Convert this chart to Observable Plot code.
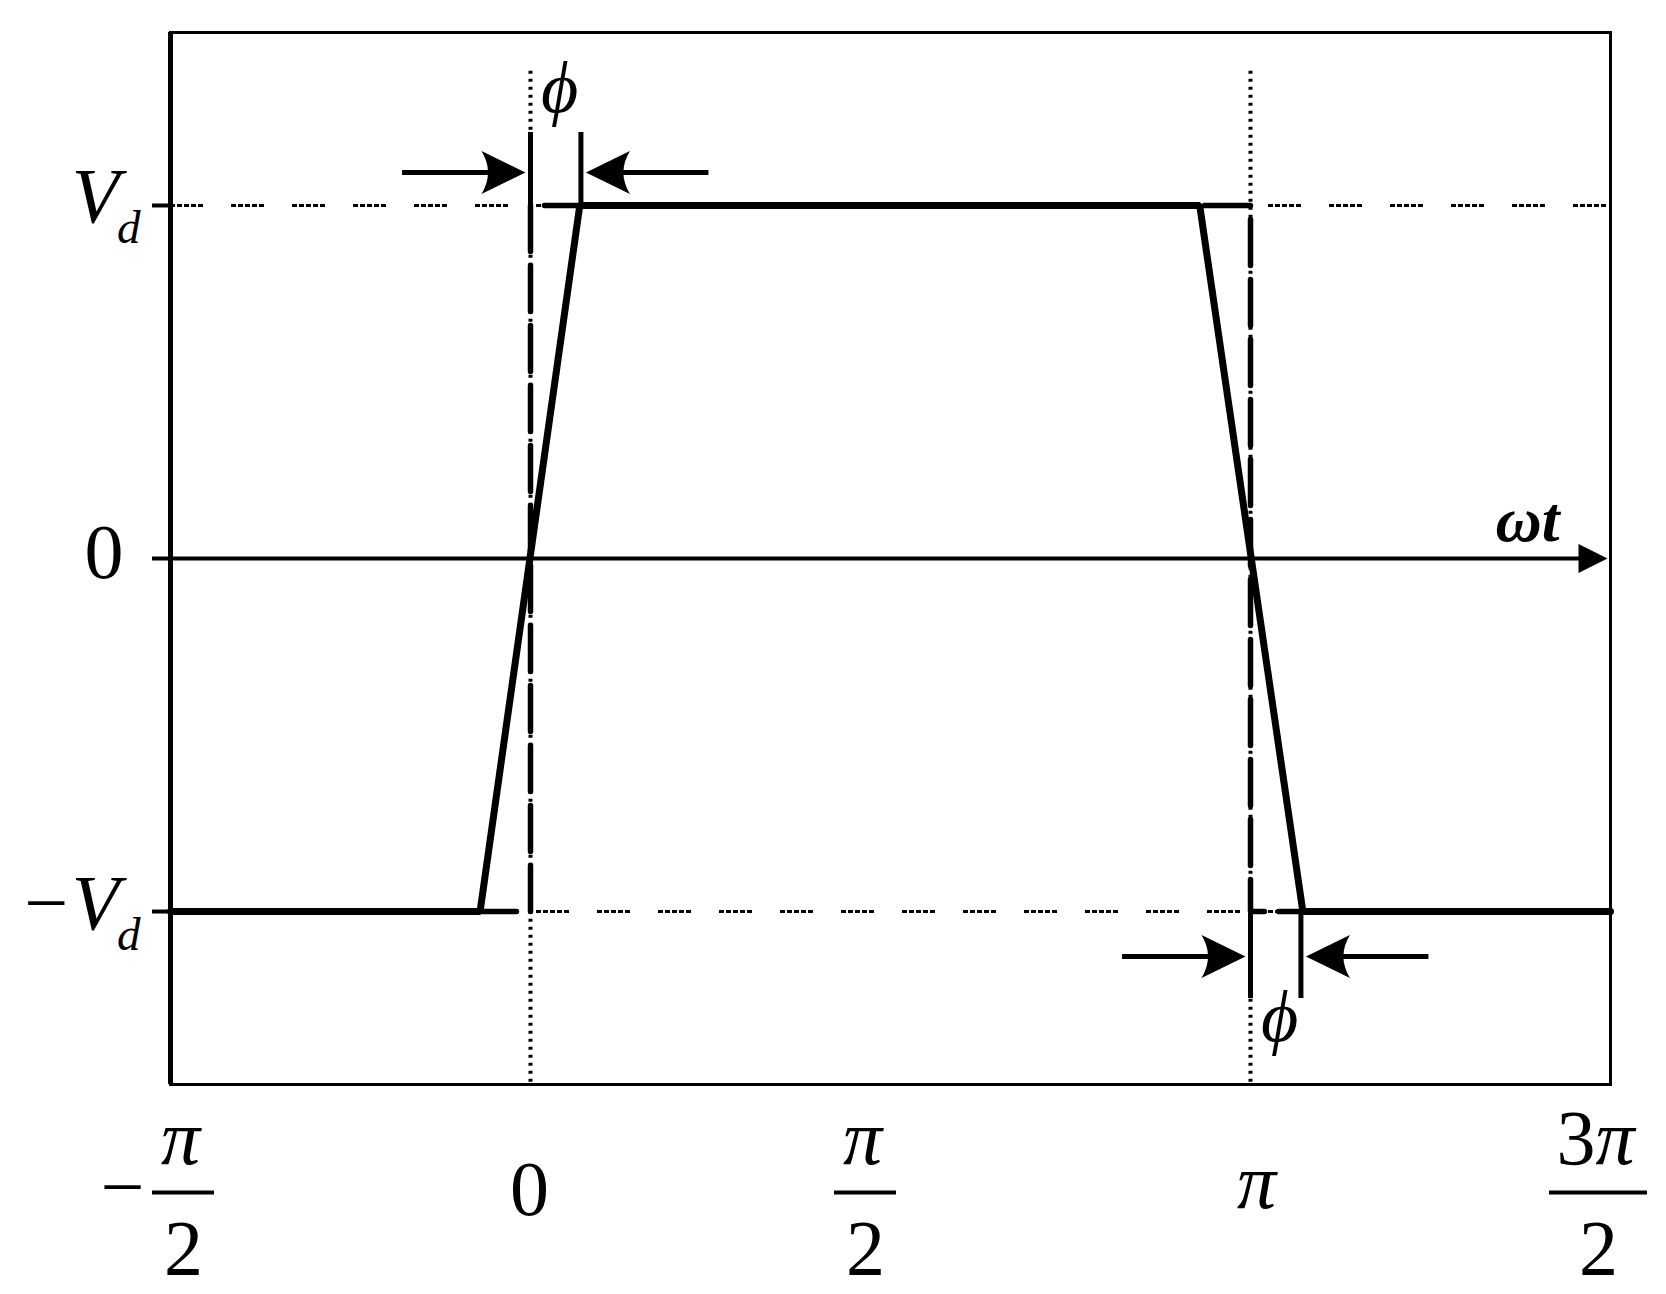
<!DOCTYPE html>
<html>
<head>
<meta charset="utf-8">
<script src="https://cdn.jsdelivr.net/npm/d3@7"></script>
<script src="https://cdn.jsdelivr.net/npm/@observablehq/plot@0.6"></script>
<style>
  html, body { margin: 0; padding: 0; background: #fff; overflow: hidden; }
  svg { display: block; }
</style>
</head>
<body>
<div id="chart"></div>
<script>
// ---------------- data ----------------
const PI = Math.PI;
// trapezoidal output voltage (units of Vd) vs ωt (rad)
const waveT = [-PI / 2, -0.22, 0.215, 2.92, 3.37, 3 * PI / 2];
const waveV = [-1, -1, 1, 1, -1, -1];
// ideal square wave (dashed)
const squareT = [-PI / 2, 0, 0, PI, PI, 3 * PI / 2];
const squareV = [-1, -1, 1, 1, -1, -1];
// phase shift φ (rad) and where it is marked
const phi = 0.22;
const phiEdges = [0, PI];             // left edge of each φ interval
const phiLevels = [1, -1];            // level (Vd units) at which each φ is marked
// y axis
const yTickValues = [1, 0, -1];
const yTickMain = ["V", "0", "−V"];
const yTickSub = ["d", "", "d"];
const yTickItalic = [true, false, true];
// x axis (fraction tick labels)
const xTickValues = [-PI / 2, 0, PI / 2, PI, 3 * PI / 2];
const xTickSign = ["−", "", "", "", ""];
const xTickCoef = ["", "", "", "", "3"];
const xTickNumPi = ["π", "", "π", "", "π"];
const xTickDen = ["2", "", "2", "", "2"];
const xTickWhole = ["", "0", "", "π", ""];
const axisName = "ωt";
const phiName = "ϕ";

// ---------------- layout (pixels) ----------------
const W = 1666, H = 1294;
const mL = 170, mR = 56, mT = 32, mB = 210;
const yMax = 1.49;
const pxPerRad = (W - mL - mR) / (2 * PI);
const pxPerV = (H - mT - mB) / (2 * yMax);
const px2x = p => p / pxPerRad;
const px2y = p => p / pxPerV;
const serif = "Liberation Serif, Times New Roman, DejaVu Serif, serif";
const xLabelShift = [13, -1, -25, 6, -12];   // horizontal nudges of the tick labels (px)

// arrow-head symbols (tip at the origin)
const headRight = {draw(c) { c.moveTo(0, 0); c.lineTo(-44, -21.5); c.quadraticCurveTo(-31, 0, -44, 21.5); c.closePath(); }};
const headLeft  = {draw(c) { c.moveTo(0, 0); c.lineTo(44, -21.5);  c.quadraticCurveTo(31, 0, 44, 21.5);  c.closePath(); }};
const axisHead  = {draw(c) { c.moveTo(0, 0); c.lineTo(-29, -14.5); c.lineTo(-29, 14.5); c.closePath(); }};

// ---------------- derived tables ----------------
const wave = waveT.map((t, i) => ({t, v: waveV[i]}));
const square = squareT.map((t, i) => ({t, v: squareV[i]}));
const yTicks = yTickValues.map((v, i) => ({v, main: yTickMain[i], sub: yTickSub[i], italic: yTickItalic[i]}));
const xTicks = xTickValues.map((x, i) => ({x, sign: xTickSign[i], coef: xTickCoef[i], num: xTickNumPi[i], den: xTickDen[i], whole: xTickWhole[i], xs: x + px2x(xLabelShift[i])}));
const phiAnn = phiEdges.map((x0, i) => {
  const lv = phiLevels[i];
  const s = Math.sign(lv);           // +1 above the top level, -1 below the bottom level
  return {
    x0, x1: x0 + phi, lv,
    yArrow: lv + s * px2y(lv > 0 ? 33 : 45),
    yBar: lv + s * px2y(lv > 0 ? 73 : 87),
    yText: lv + s * px2y(lv > 0 ? 93 : 129)
  };
});
const fracs = xTicks.filter(d => d.den);
const wholes = xTicks.filter(d => d.whole);

const black = "#000";
const txt = {fontFamily: serif, fontSize: 78, lineAnchor: "bottom", fill: black};

const chart = Plot.plot({
  width: W, height: H,
  marginLeft: mL, marginRight: mR, marginTop: mT, marginBottom: mB,
  style: {background: "#fff", overflow: "visible"},
  x: {domain: [-PI / 2, 3 * PI / 2], axis: null},
  y: {domain: [-yMax, yMax], axis: null},
  marks: [
    // dotted reference lines at ±Vd
    Plot.ruleY([1, -1], {stroke: black, strokeWidth: 3, strokeDasharray: "5,2,5,2,5,2,5,2,5,28"}),
    // dotted vertical references at 0 and π
    Plot.ruleX([0, PI], {y1: 1.38, y2: -yMax, stroke: black, strokeWidth: 4, strokeDasharray: "3,5"}),
    // ideal square wave (dashed)
    Plot.line(square, {x: "t", y: "v", stroke: black, strokeWidth: 5.5, strokeDasharray: "46,14", strokeLinejoin: "miter"}),
    // ωt axis with arrow
    Plot.ruleY([0], {x1: -PI / 2, x2: 3 * PI / 2 - px2x(20), stroke: black, strokeWidth: 4}),
    Plot.dot([3 * PI / 2], {x: d => d, y: 0, dx: -3, r: 1, symbol: axisHead, fill: black, stroke: "none"}),
    // frame and y axis
    Plot.frame({stroke: black, strokeWidth: 3}),
    Plot.ruleX([-PI / 2], {stroke: black, strokeWidth: 5}),
    Plot.axisY({ticks: yTickValues, tickSize: 18, tickFormat: () => "", stroke: black, strokeWidth: 4, label: null}),
    // trapezoidal waveform
    Plot.line(wave, {x: "t", y: "v", stroke: black, strokeWidth: 7, strokeLinejoin: "miter"}),
    // φ annotations: bars
    Plot.ruleX(phiAnn.flatMap(d => [{x: d.x0, y1: d.lv, y2: d.yBar}, {x: d.x1, y1: d.lv, y2: d.yBar}]),
      {x: "x", y1: "y1", y2: "y2", stroke: black, strokeWidth: 5}),
    // φ annotations: arrow shafts
    Plot.ruleY(phiAnn.flatMap(d => [
        {x1: d.x0 - px2x(128), x2: d.x0 - px2x(30), y: d.yArrow},
        {x1: d.x1 + px2x(30), x2: d.x1 + px2x(128), y: d.yArrow}]),
      {x1: "x1", x2: "x2", y: "y", stroke: black, strokeWidth: 5}),
    // φ annotations: arrow heads
    Plot.dot(phiAnn, {x: "x0", y: "yArrow", dx: -5, r: 1, symbol: headRight, fill: black, stroke: "none"}),
    Plot.dot(phiAnn, {x: "x1", y: "yArrow", dx: 5, r: 1, symbol: headLeft, fill: black, stroke: "none"}),
    Plot.text(phiAnn, {x: d => (d.x0 + d.x1) / 2, y: "yText", dx: 4, text: () => phiName,
      ...txt, fontSize: 72, fontStyle: "italic", textAnchor: "middle"}),
    // ωt label
    Plot.text([axisName], {frameAnchor: "right", y: 0, dx: -83, dy: -18, text: d => d,
      ...txt, fontSize: 64, fontStyle: "italic", fontWeight: "bold", textAnchor: "middle"}),
    // y tick labels
    Plot.text(yTicks.filter(d => d.italic), {frameAnchor: "left", y: "v", dx: -51, dy: 17, text: "main",
      ...txt, fontStyle: "italic", textAnchor: "end"}),
    Plot.text(yTicks.filter(d => !d.italic), {frameAnchor: "left", y: "v", dx: -47, dy: 19, text: "main",
      ...txt, textAnchor: "end"}),
    Plot.text(yTicks.filter(d => d.sub), {frameAnchor: "left", y: "v", dx: -30, dy: 38, text: "sub",
      ...txt, fontSize: 47, fontStyle: "italic", textAnchor: "end"}),
    // x tick labels: whole numbers
    Plot.text(wholes.filter(d => d.whole !== "π"), {x: "xs", frameAnchor: "bottom", dy: 130, text: "whole",
      ...txt, textAnchor: "middle"}),
    Plot.text(wholes.filter(d => d.whole === "π"), {x: "xs", frameAnchor: "bottom", dy: 123, text: "whole",
      ...txt, fontStyle: "italic", textAnchor: "middle"}),
    // x tick labels: fractions
    Plot.text(fracs.filter(d => !d.coef), {x: "xs", frameAnchor: "bottom", dx: -3, dy: 79, text: "num",
      ...txt, fontStyle: "italic", textAnchor: "middle"}),
    Plot.text(fracs.filter(d => d.coef), {x: "xs", frameAnchor: "bottom", dx: -3, dy: 79, text: "coef",
      ...txt, textAnchor: "end"}),
    Plot.text(fracs.filter(d => d.coef), {x: "xs", frameAnchor: "bottom", dx: -3, dy: 79, text: "num",
      ...txt, fontStyle: "italic", textAnchor: "start"}),
    Plot.ruleY(fracs, {x1: d => d.xs - px2x(d.coef ? 49 : 31), x2: d => d.xs + px2x(d.coef ? 49 : 31),
      y: -yMax - px2y(108), stroke: black, strokeWidth: 4}),
    Plot.text(fracs, {x: "xs", frameAnchor: "bottom", dy: 189, text: "den",
      ...txt, textAnchor: "middle"}),
    Plot.text(fracs.filter(d => d.sign), {x: "x", frameAnchor: "bottom", dx: -48, dy: 128, text: "sign",
      ...txt, textAnchor: "middle"})
  ]
});
document.getElementById("chart").appendChild(chart);
</script>
</body>
</html>
